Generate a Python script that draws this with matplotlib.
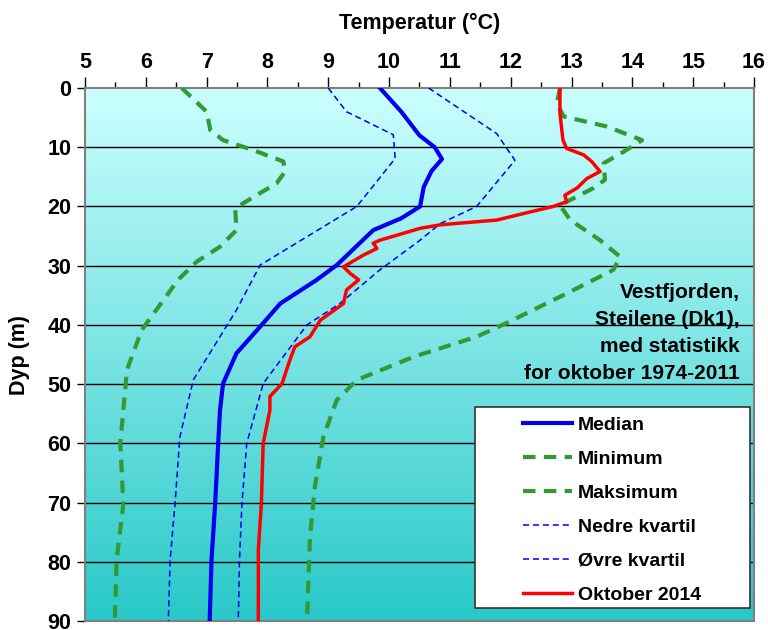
import numpy as np
import matplotlib
matplotlib.use("Agg")
import matplotlib.pyplot as plt
from matplotlib.colors import LinearSegmentedColormap
from matplotlib.patches import Rectangle

plt.rcParams['font.family'] = ['Liberation Sans', 'DejaVu Sans']
plt.rcParams['font.weight'] = 'bold'

# profiles: (temperature degC, depth m)
median_t = [9.85, 10.2, 10.5, 10.75, 10.87, 10.7, 10.57, 10.51, 10.2, 9.74, 9.14, 8.81, 8.21, 7.88, 7.49, 7.27, 7.22, 7.19, 7.14, 7.08, 7.05]
median_d = [0, 4, 8, 10, 12, 14, 16.7, 20, 22, 24, 29.9, 32.4, 36.4, 40.3, 44.8, 49.9, 54.4, 60, 70.2, 79.7, 90]

min_t = [6.59, 7.0, 7.06, 7.27, 7.77, 8.26, 8.29, 8.15, 7.77, 7.47, 7.49, 7.22, 6.84, 6.53, 5.93, 5.69, 5.58, 5.63, 5.52, 5.49]
min_d = [0, 4, 7.1, 8.8, 10.5, 12.4, 14.1, 16.1, 18.4, 20.3, 24, 26.8, 29.3, 32.4, 40.9, 47.6, 60, 70.2, 79.7, 90]

max_t = [12.81, 12.76, 12.87, 13.58, 14.16, 13.85, 13.53, 13.55, 13.36, 12.81, 12.98, 13.47, 13.8, 13.69, 12.92, 11.93, 11.44, 10.4, 9.47, 9.14, 8.92, 8.78, 8.70, 8.65]
max_d = [0, 2.6, 4.8, 6.5, 8.8, 10.8, 12.7, 15.5, 16.9, 19.8, 22.3, 25.7, 28.5, 30.7, 34.7, 39.7, 42, 45.4, 49.3, 52.7, 58.9, 67.3, 75.8, 90]

q25_t = [9.0, 9.3, 10.07, 10.1, 9.47, 7.88, 7.49, 6.78, 6.56, 6.48, 6.40, 6.37]
q25_d = [0, 4, 7.9, 11.9, 20, 29.9, 37.5, 49.3, 58.9, 70.2, 79.7, 90]

q75_t = [10.65, 11.77, 12.07, 11.44, 10.84, 10.51, 9.85, 9.19, 8.65, 7.93, 7.66, 7.58, 7.54, 7.52]
q75_d = [0, 7.7, 12.2, 20, 22.9, 25.7, 30.7, 36.4, 40, 49.9, 60, 70.2, 79.7, 90]

okt_t = [12.81, 12.81, 12.86, 12.92, 13.2, 13.33, 13.47, 13.25, 13.09, 12.89, 12.92, 12.7, 12.21, 11.77, 10.84, 10.51, 9.85, 9.74, 9.8, 9.58, 9.3, 9.25, 9.36, 9.5, 9.3, 9.25, 8.87, 8.7, 8.45, 8.37, 8.24, 8.04, 8.04, 7.93, 7.9, 7.85, 7.85]
okt_d = [0, 4.3, 8.8, 10.2, 11.3, 12.4, 14.1, 15.3, 16.9, 18.1, 19.2, 20, 21.2, 22.3, 23.1, 23.7, 25.7, 26.2, 27.1, 28.2, 29.9, 30.2, 31.3, 32.4, 34.1, 36.4, 39.2, 42, 43.7, 45.9, 49.9, 52.1, 54.4, 60, 70.2, 78, 90]

fig = plt.figure(figsize=(7.68, 6.3), dpi=100)
ax = fig.add_axes([0.1107, 0.0143, 0.871, 0.846])

# vertical colour gradient behind the profiles
grad = LinearSegmentedColormap.from_list('sea', ['#ccffff', '#29c8c8'])
ax.imshow(np.linspace(0, 1, 256).reshape(-1, 1), cmap=grad, aspect='auto',
          extent=[5, 16, 90, 0], zorder=0)

for d in range(10, 90, 10):
    ax.axhline(d, color='black', lw=1, zorder=1)

green = '#339933'
ax.plot(median_t, median_d, color='#0000ee', lw=3, label='Median', zorder=4)
ax.plot(min_t, min_d, color=green, lw=3, dashes=(3, 2), label='Minimum', zorder=3)
ax.plot(max_t, max_d, color=green, lw=3, dashes=(3, 2), label='Maksimum', zorder=3)
ax.plot(q25_t, q25_d, color='#0000ee', lw=1.1, dashes=(4, 2.5), label='Nedre kvartil', zorder=3)
ax.plot(q75_t, q75_d, color='#0000ee', lw=1.1, dashes=(4, 2.5), label=u'Øvre kvartil', zorder=3)
ax.plot(okt_t, okt_d, color='#ff0000', lw=2.5, label='Oktober 2014', zorder=5)

ax.set_xlim(5, 16)
ax.set_ylim(90, 0)
ax.xaxis.tick_top()
ax.xaxis.set_label_position('top')
ax.set_xticks(range(5, 17))
ax.set_xticks(np.arange(5.5, 16, 1), minor=True)
ax.set_yticks(range(0, 91, 10))
ax.tick_params(axis='x', which='major', length=8, width=1, pad=2.5, labelsize=15.5)
ax.tick_params(axis='x', which='minor', length=4, width=1)
ax.tick_params(axis='y', which='major', length=6, width=1, pad=4, labelsize=15.5)
for s in ax.spines.values():
    s.set_color('#808080')
    s.set_linewidth(1.5)

ax.set_xlabel(u'Temperatur (°C)', fontsize=15.5, fontweight='bold', labelpad=17)
ax.set_ylabel('Dyp (m)', fontsize=15.5, fontweight='bold', labelpad=12)

ax.text(15.77, 41.4, 'Vestfjorden,\nSteilene (Dk1),\nmed statistikk\nfor oktober 1974-2011',
        ha='right', va='center', fontsize=15, fontweight='bold', linespacing=1.52, zorder=6)

# white legend box with the entries set to its right half
ax.add_patch(Rectangle((0.583, 0.024), 0.411, 0.378, transform=ax.transAxes,
                       facecolor='white', edgecolor='#333333', lw=1.2, zorder=6))
leg = ax.legend(loc='upper left', bbox_to_anchor=(0.655, 0.384), fontsize=14,
                frameon=False, handlelength=2.52, handletextpad=0.3,
                labelspacing=0.84, borderpad=0, borderaxespad=0)
for t in leg.get_texts():
    t.set_fontweight('bold')
leg.set_zorder(7)

fig.savefig('out.png', dpi=100)
